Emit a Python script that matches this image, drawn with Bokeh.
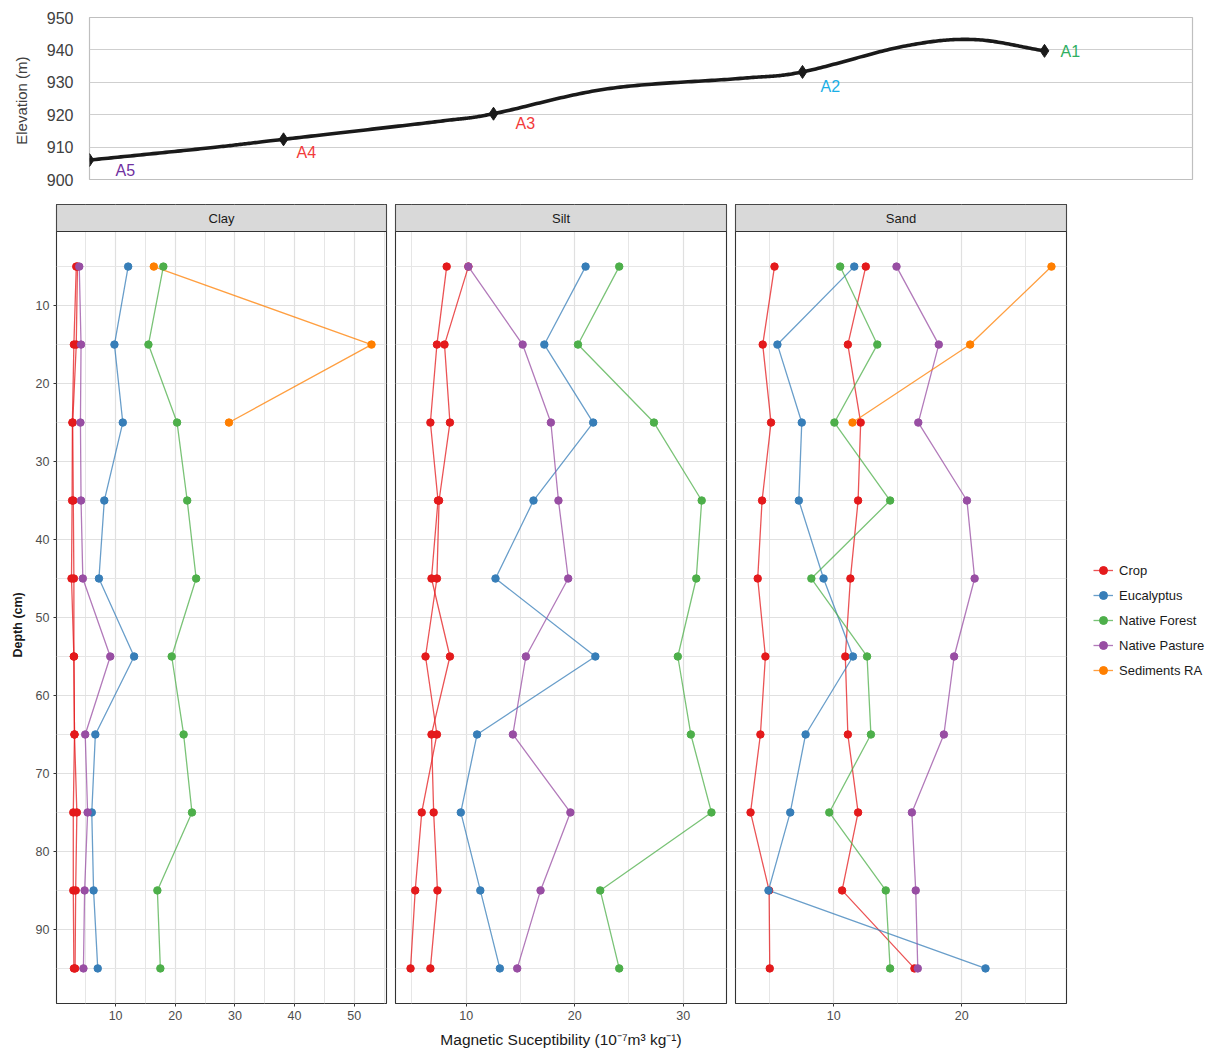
import numpy as np
from bokeh.plotting import figure
from bokeh.layouts import column, row
from bokeh.models import Range1d, SingleIntervalTicker, FixedTicker, Legend, LegendItem, Title
from bokeh.core.properties import value
from bokeh.embed import file_html
from bokeh.resources import INLINE

FONT = "Liberation Sans"

# ---------------------------------------------------------------- profile data
# elevation profile along the transect (horizontal distance in plot units)
profile_dist = [0, 121, 194, 351, 404, 518, 651, 713, 814, 884, 955]
profile_elev = [906.0, 909.8, 912.4, 918.0, 920.3, 928.0, 931.2, 933.2, 941.1, 943.2, 939.7]

site_names = ["A5", "A4", "A3", "A2", "A1"]
site_dist = [0, 194, 404, 713, 955]
site_elev = [906.0, 912.4, 920.3, 933.2, 939.7]

elev_ticks = [900, 910, 920, 930, 940, 950]

# ------------------------------------------------------- susceptibility data
depth = [5, 15, 25, 35, 45, 55, 65, 75, 85, 95]
sediment_depth = [5, 15, 25]

clay_crop_a = [3.4, 3.0, 2.75, 2.7, 2.6, 3.0, 3.1, 2.9, 2.9, 3.0]
clay_crop_b = [3.6, 3.4, 2.8, 2.9, 3.0, 3.0, 3.1, 3.5, 3.3, 3.2]
clay_eucalyptus = [12.1, 9.8, 11.2, 8.1, 7.2, 13.1, 6.6, 6.0, 6.3, 7.0]
clay_native_forest = [18.0, 15.5, 20.3, 22.0, 23.5, 19.4, 21.4, 22.8, 17.0, 17.5]
clay_native_pasture = [3.9, 4.2, 4.1, 4.2, 4.5, 9.1, 4.9, 5.3, 4.8, 4.6]
clay_sediments = [16.4, 52.9, 29.0]

silt_crop_a = [8.2, 7.3, 6.7, 7.4, 6.8, 8.5, 6.8, 7.0, 7.35, 6.7]
silt_crop_b = [10.2, 8.0, 8.5, 7.5, 7.3, 6.25, 7.3, 5.9, 5.3, 4.87]
silt_eucalyptus = [21.0, 17.2, 21.7, 16.2, 12.7, 21.9, 11.0, 9.5, 11.3, 13.1]
silt_native_forest = [24.1, 20.3, 27.3, 31.7, 31.2, 29.5, 30.7, 32.6, 22.35, 24.1]
silt_native_pasture = [10.2, 15.2, 17.8, 18.5, 19.4, 15.5, 14.3, 19.6, 16.85, 14.7]
silt_sediments = []

sand_crop_a = [5.37, 4.45, 5.1, 4.4, 4.06, 4.66, 4.27, 3.5, 4.95, 5.0]
sand_crop_b = [12.5, 11.1, 12.1, 11.9, 11.3, 10.9, 11.1, 11.9, 10.65, 16.3]
sand_eucalyptus = [11.6, 5.6, 7.5, 7.27, 9.2, 11.5, 7.8, 6.6, 4.9, 21.85]
sand_native_forest = [10.5, 13.4, 10.05, 14.4, 8.25, 12.6, 12.9, 9.65, 14.06, 14.4]
sand_native_pasture = [14.9, 18.2, 16.6, 20.4, 21.0, 19.4, 18.6, 16.1, 16.4, 16.56]
sand_sediments = [27.0, 20.65, 11.46]

fractions = ["Clay", "Silt", "Sand"]
land_uses = ["Crop", "Eucalyptus", "Native Forest", "Native Pasture", "Sediments RA"]

# ---------------------------------------------------------------- styling
use_colors = {"Crop": "#E41A1C", "Eucalyptus": "#377EB8", "Native Forest": "#4DAF4A",
              "Native Pasture": "#984EA3", "Sediments RA": "#FF7F00"}
site_colors = ["#7030A0", "#F23A3A", "#F23A3A", "#1AAFE6", "#2EAF62"]
site_label_dx = [26, 13, 22, 18, 16]
site_label_dy = [10, 13, 10, 15, 1]

LINE_KW = dict(line_width=1.3, line_alpha=0.75)
DOT_KW = dict(size=7.5)


def catmull_rom(xs, ys, n=40):
    """Smooth curve through the points (uniform Catmull-Rom)."""
    P = np.column_stack([xs, ys]).astype(float)
    P = np.vstack([2 * P[0] - P[1], P, 2 * P[-1] - P[-2]])
    t = np.linspace(0, 1, n, endpoint=False)[:, None]
    pieces = []
    for i in range(1, len(P) - 2):
        p0, p1, p2, p3 = P[i - 1], P[i], P[i + 1], P[i + 2]
        pieces.append(0.5 * (2 * p1 + (-p0 + p2) * t + (2 * p0 - 5 * p1 + 4 * p2 - p3) * t ** 2
                             + (-p0 + 3 * p1 - 3 * p2 + p3) * t ** 3))
    pieces.append(P[-2][None, :])
    out = np.vstack(pieces)
    return out[:, 0], out[:, 1]


# ---------------------------------------------------------------- elevation profile
top = figure(width=1205, height=192, x_range=Range1d(0, 1103), y_range=Range1d(900, 950),
             x_axis_location=None, output_backend="svg", toolbar_location=None,
             min_border_left=89, min_border_right=13, min_border_top=17, min_border_bottom=13)
top.outline_line_color = "#BFBFBF"
top.outline_line_width = 1.2
top.xgrid.visible = False
top.ygrid.ticker = FixedTicker(ticks=elev_ticks)
top.ygrid.grid_line_color = "#CFCFCF"
top.ygrid.grid_line_width = 1.2
ya = top.yaxis[0]
ya.ticker = FixedTicker(ticks=elev_ticks)
ya.axis_line_color = None
ya.major_tick_line_color = None
ya.minor_tick_line_color = None
ya.major_label_standoff = 10
ya.major_label_text_font = FONT
ya.major_label_text_font_size = "16px"
ya.major_label_text_color = "#404040"
ya.axis_label = "Elevation  (m)"
ya.axis_label_text_font = FONT
ya.axis_label_text_font_size = "15px"
ya.axis_label_text_font_style = "normal"
ya.axis_label_text_color = "#404040"
ya.axis_label_standoff = 14

cx, cy = catmull_rom(profile_dist, profile_elev)
top.line(cx, cy, line_color="#1A1A1A", line_width=3.6, line_join="round")
top.scatter(site_dist, site_elev, marker="diamond", size=13, fill_color="#1A1A1A", line_color="#1A1A1A")
top.text(x=site_dist, y=site_elev, text=site_names, x_offset=site_label_dx, y_offset=site_label_dy,
         text_color=site_colors, text_font=value(FONT), text_font_size="16px",
         text_align="left", text_baseline="middle")

# ---------------------------------------------------------------- facet panels
panel_data = {
    "Clay": ([clay_crop_a, clay_crop_b], clay_eucalyptus, clay_native_forest, clay_native_pasture, clay_sediments),
    "Silt": ([silt_crop_a, silt_crop_b], silt_eucalyptus, silt_native_forest, silt_native_pasture, silt_sediments),
    "Sand": ([sand_crop_a, sand_crop_b], sand_eucalyptus, sand_native_forest, sand_native_pasture, sand_sediments),
}

PANEL_PX = 772   # height of the data area
STRIP_PX = 27    # height of the facet strip


def panel_series(name):
    crops, euc, forest, pasture, sed = panel_data[name]
    return [("Crop", c, depth) for c in crops] + [
        ("Eucalyptus", euc, depth), ("Native Forest", forest, depth),
        ("Native Pasture", pasture, depth), ("Sediments RA", sed, sediment_depth)]


def make_panel(name, first, middle):
    series = panel_series(name)
    allx = [v for _, xs, _ in series for v in xs]
    lo, hi = min(allx), max(allx)
    pad = 0.05 * (hi - lo)
    xr = Range1d(lo - pad, hi + pad)
    dlo, dhi = min(depth), max(depth)
    dpad = 0.05 * (dhi - dlo)
    y_top_data = dlo - dpad
    y_bot = dhi + dpad
    ext = STRIP_PX * (y_bot - y_top_data) / PANEL_PX
    y_strip = y_top_data - ext
    yr = Range1d(y_bot, y_strip)

    p = figure(width=390 if first else 340, height=860, x_range=xr, y_range=yr,
               y_axis_location="left" if first else None,
               output_backend="svg", toolbar_location=None,
               min_border_left=56 if first else 5, min_border_right=4,
               min_border_top=12, min_border_bottom=49)
    p.background_fill_color = "white"
    p.outline_line_color = "#333333"
    p.outline_line_width = 1.1

    xt = SingleIntervalTicker(interval=10, num_minor_ticks=2)
    yt = FixedTicker(ticks=[10, 20, 30, 40, 50, 60, 70, 80, 90],
                     minor_ticks=[5, 15, 25, 35, 45, 55, 65, 75, 85, 95])
    p.xgrid.ticker = xt
    p.ygrid.ticker = yt
    for g in (p.xgrid[0], p.ygrid[0]):
        g.grid_line_color = "#E0E0E0"
        g.grid_line_width = 1.2
        g.minor_grid_line_color = "#E6E6E6"
        g.minor_grid_line_width = 1.0

    axes = [p.xaxis[0]] + ([p.yaxis[0]] if first else [])
    for ax in axes:
        ax.axis_line_color = None
        ax.major_tick_line_color = "#333333"
        ax.major_tick_out = 3
        ax.major_tick_in = 0
        ax.minor_tick_line_color = None
        ax.major_label_text_font = FONT
        ax.major_label_text_font_size = "12.5px"
        ax.major_label_text_color = "#4D4D4D"
        ax.major_label_standoff = 3
    p.xaxis[0].ticker = xt
    if first:
        p.yaxis[0].ticker = yt
        # depth title, centred on the data area below the strip
        p.add_layout(Title(text="Depth (cm)", align="left", offset=346, standoff=15,
                           text_font=FONT, text_font_size="12.5px", text_font_style="bold",
                           text_color="#1A1A1A"), "left")
    if middle:
        p.xaxis[0].axis_label = "Magnetic Suceptibility (10\u207b\u2077m\u00b3 kg\u207b\u00b9)"
        p.xaxis[0].axis_label_text_font = FONT
        p.xaxis[0].axis_label_text_font_size = "15.5px"
        p.xaxis[0].axis_label_text_font_style = "normal"
        p.xaxis[0].axis_label_text_color = "#1A1A1A"
        p.xaxis[0].axis_label_standoff = 8

    for use, xs, ys in series:
        if xs:
            p.line(xs, ys, line_color=use_colors[use], **LINE_KW)
    for use, xs, ys in series:
        if xs:
            p.scatter(xs, ys, fill_color=use_colors[use], line_color=use_colors[use], **DOT_KW)

    # facet strip
    p.quad(left=xr.start, right=xr.end, top=y_strip, bottom=y_top_data,
           fill_color="#D9D9D9", line_color="#333333", line_width=1.1)
    p.text(x=[(xr.start + xr.end) / 2], y=[(y_strip + y_top_data) / 2], text=[name],
           text_font=value(FONT), text_font_size="13px", text_color="#1A1A1A",
           text_align="center", text_baseline="middle")
    return p


panels = [make_panel(n, i == 0, i == 1) for i, n in enumerate(fractions)]

# ---------------------------------------------------------------- legend
# key panel: it carries the sand series, kept outside its own view range,
# so that each legend entry has a line and a point to show
lf = figure(width=135, height=860, x_range=Range1d(-2, -1), y_range=Range1d(0, 1),
            x_axis_location=None, y_axis_location=None, output_backend="svg",
            toolbar_location=None, min_border=0)
lf.outline_line_color = None
lf.grid.visible = False
key_line, key_dot = {}, {}
for use, xs, ys in panel_series("Sand"):
    if xs and use not in key_line:
        key_line[use] = lf.line(xs, ys, line_color=use_colors[use], **LINE_KW)
        key_dot[use] = lf.scatter(xs, ys, fill_color=use_colors[use], line_color=use_colors[use], **DOT_KW)
items = [LegendItem(label=use, renderers=[key_line[use], key_dot[use]]) for use in land_uses]
legend = Legend(items=items, location=(23, 323), orientation="vertical",
                glyph_width=20, glyph_height=20, label_height=20, spacing=5,
                label_standoff=6, padding=0, margin=0,
                label_text_font=FONT, label_text_font_size="13px", label_text_color="#1A1A1A",
                border_line_color=None, background_fill_alpha=0)
lf.add_layout(legend)

layout = column(top, row(*panels, lf))
open("out.html", "w").write(file_html(layout, INLINE))
